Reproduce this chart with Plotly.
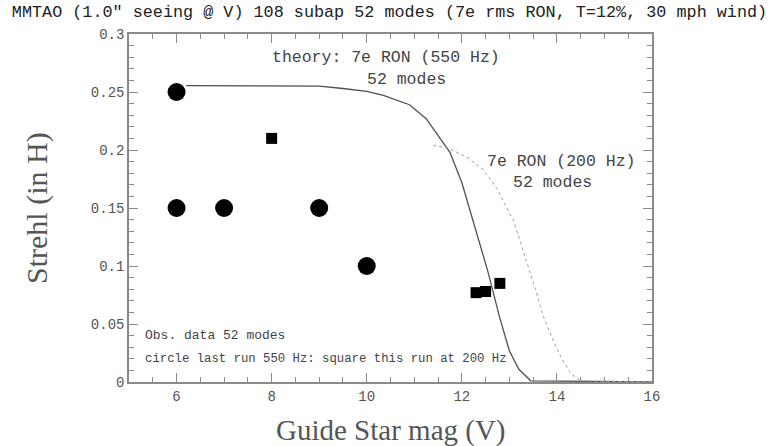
import plotly.graph_objects as go

# Observed data
circle_mag = [6, 6, 7, 9, 10]
circle_strehl = [0.25, 0.15, 0.15, 0.15, 0.10]
square_mag = [8.0, 12.3, 12.5, 12.8]
square_strehl = [0.21, 0.077, 0.078, 0.085]

# Theory curves
th550_mag = [6.2, 8.2, 9.0, 9.5, 10.0, 10.35, 10.9, 11.25, 11.5, 11.75, 12.0, 12.3,
             12.55, 12.8, 13.0, 13.2, 13.45, 16.0]
th550_strehl = [0.2555, 0.2555, 0.255, 0.253, 0.2505, 0.247, 0.239, 0.227, 0.213,
                0.198, 0.172, 0.13, 0.095, 0.055, 0.027, 0.011, 0.001, 0.0]
th200_mag = [11.4, 11.7, 12.1, 12.45, 12.75, 12.95, 13.1, 13.25, 13.4, 13.55, 13.7,
             13.9, 14.1, 14.3, 14.5, 16.0]
th200_strehl = [0.204, 0.202, 0.194, 0.183, 0.166, 0.15, 0.138, 0.118, 0.1, 0.08,
                0.058, 0.038, 0.02, 0.007, 0.001, 0.0]

x_ticks = [6, 8, 10, 12, 14, 16]
y_ticks = [0, 0.05, 0.1, 0.15, 0.2, 0.25, 0.3]
y_ticklabels = ["0", "0.05", "0.1", "0.15", "0.2", "0.25", "0.3"]

FONT = "Liberation Mono"
SERIF = "Liberation Serif"
TXT = "#444444"
FRAME = "#8a8a8a"

fig = go.Figure()
fig.add_trace(go.Scatter(x=th550_mag, y=th550_strehl, mode="lines",
                         line=dict(color="#505050", width=1.3), showlegend=False))
fig.add_trace(go.Scatter(x=th200_mag, y=th200_strehl, mode="lines",
                         line=dict(color="#a0a0a0", width=1, dash="dot"), showlegend=False))
fig.add_trace(go.Scatter(x=circle_mag, y=circle_strehl, mode="markers",
                         marker=dict(symbol="circle", size=18, color="black"),
                         showlegend=False))
fig.add_trace(go.Scatter(x=square_mag, y=square_strehl, mode="markers",
                         marker=dict(symbol="square", size=11, color="black"),
                         showlegend=False))

annots = [
    dict(x=10.4, y=0.280, text="theory: 7e RON (550 Hz)", size=16.5, xanchor="center"),
    dict(x=10.83, y=0.261, text="52 modes", size=16.5, xanchor="center"),
    dict(x=14.09, y=0.1897, text="7e RON (200 Hz)", size=16.5, xanchor="center"),
    dict(x=13.9, y=0.1716, text="52 modes", size=16.5, xanchor="center"),
    dict(x=5.29, y=0.0397, text="Obs. data 52 modes", size=13, xanchor="left"),
    dict(x=5.29, y=0.0198, text="circle last run 550 Hz: square this run at 200 Hz",
         size=12.3, xanchor="left"),
]
for a in annots:
    fig.add_annotation(x=a["x"], y=a["y"], xref="x", yref="y", text=a["text"],
                       showarrow=False, xanchor=a["xanchor"], yanchor="middle",
                       font=dict(family=FONT, size=a["size"], color=TXT))

fig.add_annotation(x=0.5, y=-0.138, xref="paper", yref="paper",
                   text="Guide Star mag (V)", showarrow=False,
                   xanchor="center", yanchor="middle",
                   font=dict(family=SERIF, size=29, color="#555555"))
fig.add_annotation(x=-0.176, y=0.5, xref="paper", yref="paper",
                   text="Strehl (in H)", showarrow=False, textangle=-90,
                   xanchor="center", yanchor="middle",
                   font=dict(family=SERIF, size=30, color="#555555"))

fig.update_layout(
    width=779, height=446,
    margin=dict(l=129, r=127, t=34, b=64),
    paper_bgcolor="white", plot_bgcolor="white",
    title=dict(text="MMTAO (1.0\" seeing @ V) 108 subap 52 modes (7e rms RON, T=12%, 30 mph wind)",
               x=0.5, xanchor="center", y=0.974, yanchor="middle", yref="container",
               font=dict(family=FONT, size=16.8, color="#222222")),
    showlegend=False,
)
fig.update_xaxes(range=[5, 16], tickvals=x_ticks, ticks="inside", ticklen=9,
                 tickcolor=FRAME, mirror="allticks", showline=True, linecolor=FRAME,
                 linewidth=1.5, showgrid=False, zeroline=False,
                 tickfont=dict(family=FONT, size=14, color="#555555"),
                 minor=dict(dtick=0.5, ticks="inside", ticklen=5, tickcolor=FRAME))
fig.update_yaxes(range=[0, 0.3], tickvals=y_ticks, ticktext=y_ticklabels,
                 ticks="inside", ticklen=9,
                 tickcolor=FRAME, mirror="allticks", showline=True, linecolor=FRAME,
                 linewidth=1.5, showgrid=False, zeroline=False,
                 tickfont=dict(family=FONT, size=14, color="#555555"),
                 minor=dict(dtick=0.01, ticks="inside", ticklen=5, tickcolor=FRAME))

fig.write_html("out.html", config={"displayModeBar": False},
               post_script="document.body.style.margin='0';document.body.style.overflow='hidden';")
